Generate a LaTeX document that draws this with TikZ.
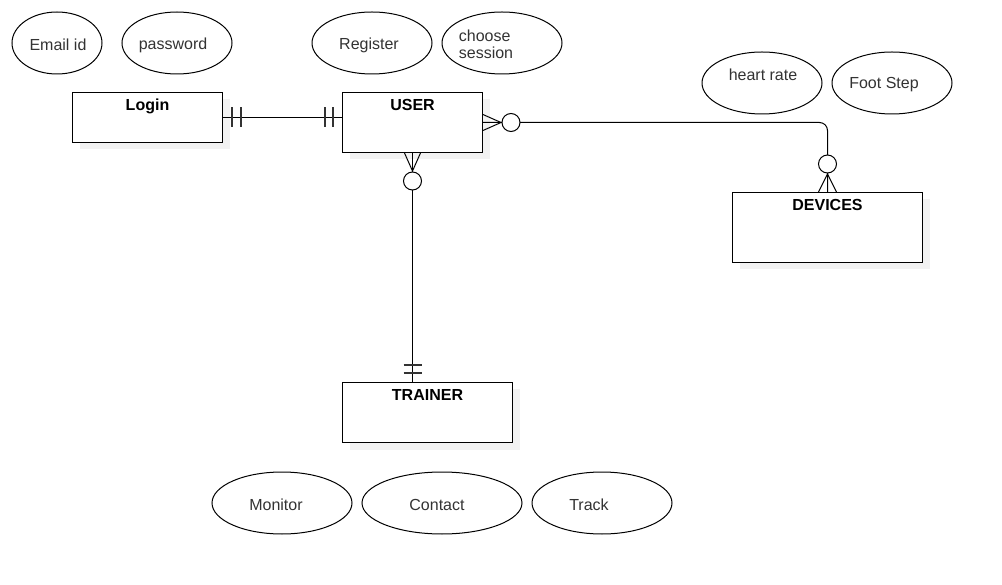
\documentclass[tikz,border=0pt]{standalone}
\usepackage{fontspec}
\setmainfont{Liberation Sans}
\usetikzlibrary{shapes.geometric,calc,shadows}
\begin{document}
\begin{tikzpicture}[x=1pt,y=-1pt,
  attr/.style={draw, ellipse, line width=1pt, minimum height=62pt, inner sep=0pt},
  lbl/.style={font=\fontsize{16}{17}\selectfont, text=black!80, inner sep=0pt, align=left},
  entity/.style={draw, line width=1pt, fill=white, anchor=north west, inner sep=0pt,
     drop shadow={shadow xshift=7pt, shadow yshift=-7pt, fill=black, opacity=0.05}},
  ttl/.style={font=\fontsize{16}{18}\selectfont\bfseries, inner sep=0pt, anchor=north},
  rel/.style={line width=1pt},
  barmark/.style={line width=1.2pt, black!80},
  opt/.style={line width=1pt, fill=white},
]
\useasboundingbox (0,0) rectangle (1002,585);
\fill[white] (0,0) rectangle (1002,585);

% attributes
\node[attr, minimum width=90pt]  (email)    at (57,43)  {};
\node[attr, minimum width=110pt] (password) at (177,43) {};
\node[attr, minimum width=120pt] (register) at (372,43) {};
\node[attr, minimum width=120pt] (choose)   at (502,43) {};
\node[attr, minimum width=120pt] (heart)    at (762,83) {};
\node[attr, minimum width=120pt] (foot)     at (892,83) {};
\node[attr, minimum width=140pt] (monitor)  at (282,503) {};
\node[attr, minimum width=160pt] (contact)  at (442,503) {};
\node[attr, minimum width=140pt] (track)    at (602,503) {};

\node[lbl] (emailL)    at (58,45)  {Email id};
\node[lbl] (passwordL) at (173,45) {password};
\node[lbl] (registerL) at (369,45) {Register};
\node[lbl] (chooseL)   at (486,44) {choose\\session};
\node[lbl] (heartL)    at (763,75) {heart rate};
\node[lbl] (footL)     at (884,85) {Foot Step};
\node[lbl] (monitorL)  at (276,505) {Monitor};
\node[lbl] (contactL)  at (437,505) {Contact};
\node[lbl] (trackL)    at (589,505) {Track};

% entities
\node[entity, minimum width=150pt, minimum height=50pt] (login)   at (72,92)  {};
\node[entity, minimum width=140pt, minimum height=60pt] (user)    at (342,92) {};
\node[entity, minimum width=190pt, minimum height=70pt] (devices) at (732,192) {};
\node[entity, minimum width=170pt, minimum height=60pt] (trainer) at (342,382) {};

\node[ttl] (loginT)   at ($(login.north)+(0,7)$)   {Login};
\node[ttl] (userT)    at ($(user.north)+(0,7)$)    {USER};
\node[ttl] (devicesT) at ($(devices.north)+(0,7)$) {DEVICES};
\node[ttl] (trainerT) at ($(trainer.north)+(0,7)$) {TRAINER};

% Login -- USER (one and only one on both sides)
\draw[rel] (login.east) -- (login.east -| user.west);
\draw[barmark] ($(login.east)+(9,-10)$) -- ++(0,20);
\draw[barmark] ($(login.east)+(18,-10)$) -- ++(0,20);
\draw[barmark] ($(login.east -| user.west)+(-9,-10)$) -- ++(0,20);
\draw[barmark] ($(login.east -| user.west)+(-17,-10)$) -- ++(0,20);

% USER -- TRAINER
\coordinate (ut) at (user.south |- trainer.north);
\draw[rel] (user.south) -- (ut);
\draw[rel] ($(user.south)+(-8,0)$) -- ($(user.south)+(0,18)$) -- ($(user.south)+(8,0)$);
\draw[opt] ($(user.south)+(0,28)$) circle[radius=9];
\draw[barmark] ($(ut)+(-9,-9)$) -- ++(18,0);
\draw[barmark] ($(ut)+(-9,-17)$) -- ++(18,0);

% USER -- DEVICES
\draw[rel, rounded corners=8pt] (user.east) -- (devices.north |- user.east) -- (devices.north);
\draw[rel] ($(user.east)+(0,-8)$) -- ($(user.east)+(18,0)$) -- ($(user.east)+(0,8)$);
\draw[opt] ($(user.east)+(28,0)$) circle[radius=9];
\draw[rel] ($(devices.north)+(-9,0)$) -- ($(devices.north)+(0,-18)$) -- ($(devices.north)+(9,0)$);
\draw[opt] ($(devices.north)+(0,-28)$) circle[radius=9];
\end{tikzpicture}
\end{document}
